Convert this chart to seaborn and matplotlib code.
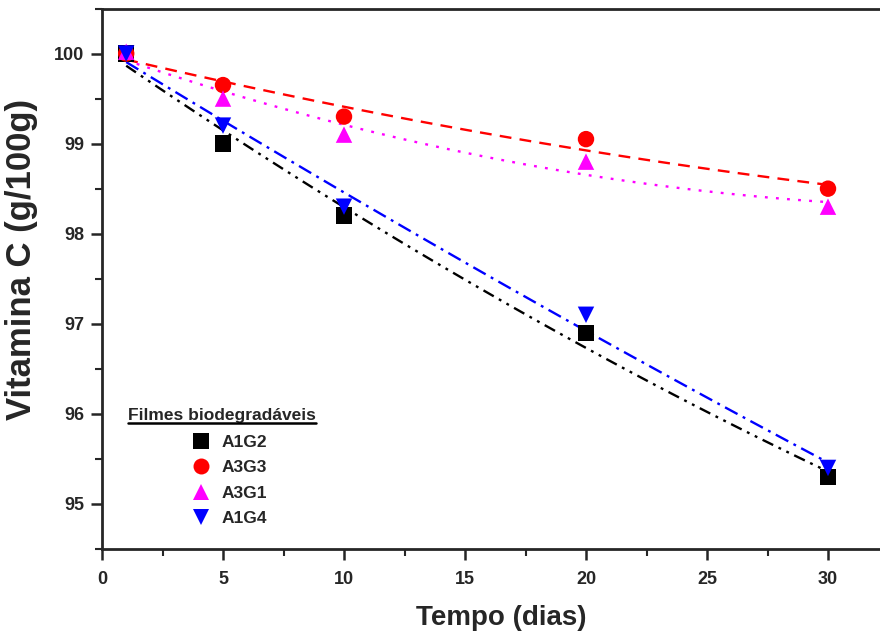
import numpy as np
import pandas as pd
import seaborn as sns
import matplotlib
matplotlib.use("Agg")
import matplotlib.pyplot as plt
from matplotlib.lines import Line2D
from matplotlib.ticker import MultipleLocator

# Storage time (days) and vitamin C content for each biodegradable film
dias = [1, 5, 10, 20, 30]
a1g2 = [100.0, 99.0, 98.2, 96.9, 95.3]
a3g3 = [100.0, 99.65, 99.3, 99.05, 98.5]
a3g1 = [100.02, 99.5, 99.1, 98.8, 98.3]
a1g4 = [100.0, 99.2, 98.3, 97.1, 95.4]

filmes = ["A1G2", "A3G3", "A3G1", "A1G4"]
series = {"A1G2": a1g2, "A3G3": a3g3, "A3G1": a3g1, "A1G4": a1g4}

cores = {"A1G2": "#000000", "A3G3": "#ff0000", "A3G1": "#ff00ff", "A1G4": "#0000ff"}
marcadores = {"A1G2": "s", "A3G3": "o", "A3G1": "^", "A1G4": "v"}
tracos = {
    "A1G2": (0, (5, 2.5, 1.2, 2.5, 1.2, 2.5)),
    "A3G3": (0, (5, 3.5)),
    "A3G1": (0, (1.2, 3.5)),
    "A1G4": (0, (6, 2.5, 1.2, 2.5)),
}

df = pd.DataFrame(
    [(d, v, f) for f in filmes for d, v in zip(dias, series[f])],
    columns=["Tempo", "VitC", "Filme"],
)

sns.set_style("ticks")
plt.rcParams["font.family"] = ["Liberation Sans", "DejaVu Sans"]
plt.rcParams["font.weight"] = "bold"

fig = plt.figure(figsize=(8.8, 6.34), dpi=100)
ax = fig.add_axes([102 / 880, 85 / 634, 798.6 / 880, 540.5 / 634])

# Trend lines fitted to each film's data
for f in filmes:
    sns.regplot(
        data=df[df["Filme"] == f], x="Tempo", y="VitC", order=2, ci=None,
        scatter=False, ax=ax,
        line_kws=dict(color=cores[f], linestyle=tracos[f], linewidth=1.7),
    )

sns.scatterplot(
    data=df, x="Tempo", y="VitC", hue="Filme", style="Filme",
    hue_order=filmes, style_order=filmes,
    palette=cores, markers=marcadores, s=140, edgecolor="none",
    ax=ax, legend=False, zorder=3,
)

ax.set_xlim(0, 33)
ax.set_ylim(94.5, 100.5)
ax.xaxis.set_major_locator(MultipleLocator(5))
ax.xaxis.set_minor_locator(MultipleLocator(2.5))
ax.yaxis.set_major_locator(MultipleLocator(1))
ax.yaxis.set_minor_locator(MultipleLocator(0.5))
ax.tick_params(which="major", length=8, width=1.8, labelsize=13)
ax.tick_params(axis="x", which="major", pad=8)
ax.tick_params(axis="y", which="major", pad=5)
ax.tick_params(which="minor", length=5, width=1.5)
for lab in ax.get_xticklabels() + ax.get_yticklabels():
    lab.set_fontweight("bold")
for s in ax.spines.values():
    s.set_linewidth(2)
ax.spines["right"].set_visible(False)

ax.set_xlabel("Tempo (dias)", fontsize=20, fontweight="bold", labelpad=12)
ax.set_ylabel("Vitamina C (g/100g)", fontsize=25, fontweight="bold")
ax.yaxis.set_label_coords(-0.08, 0.535)

# Legend: underlined title followed by marker entries
titulo = ax.text(0.0328, 0.247, "Filmes biodegradáveis", transform=ax.transAxes,
                 fontsize=12.5, fontweight="bold", ha="left", va="center")

handles = [
    Line2D([], [], linestyle="none", marker=marcadores[f], color=cores[f],
           markersize=11.5, markeredgewidth=0)
    for f in filmes
]
leg = ax.legend(
    handles, filmes, frameon=False,
    loc="upper left", bbox_to_anchor=(0.089, 0.228),
    prop=dict(size=12.5, weight="bold"),
    handletextpad=0.1, labelspacing=0.6, borderpad=0, handlelength=2.2,
)

fig.canvas.draw()
bb = titulo.get_window_extent()
fig.add_artist(Line2D([bb.x0, bb.x1], [bb.y0 - 0.5, bb.y0 - 0.5], transform=None,
                      color="black", linewidth=1.8))

fig.savefig("out.png", dpi=100)
